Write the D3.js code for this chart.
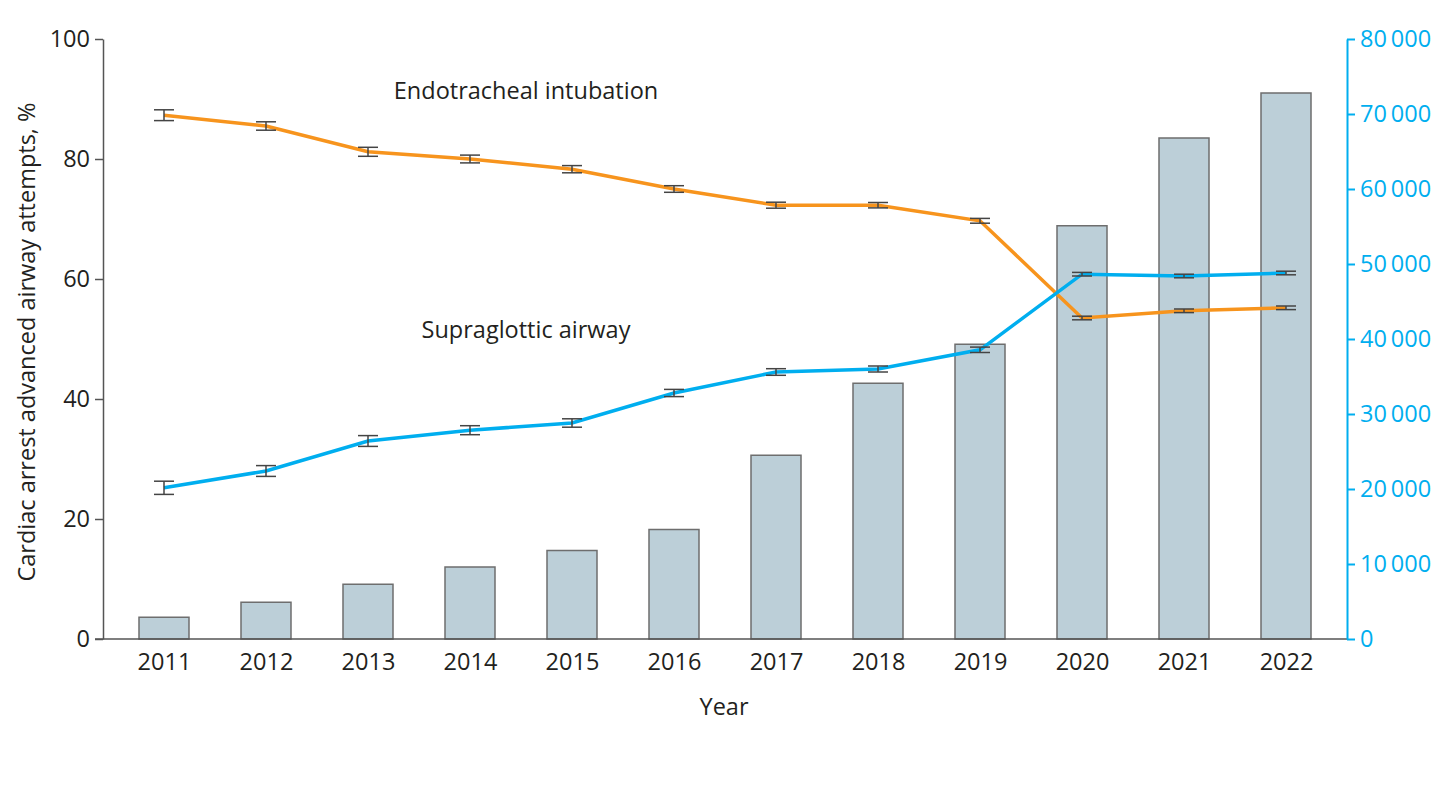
<!DOCTYPE html>
<html><head><meta charset="utf-8">
<script src="https://cdn.jsdelivr.net/npm/d3@7"></script>
<style>body{margin:0;background:#fff;} text{font-family:"Open Sans","Lato",sans-serif;}</style>
</head><body>
<svg id="c" width="1440" height="810"></svg>
<script>
const years = ["2011","2012","2013","2014","2015","2016","2017","2018","2019","2020","2021","2022"];
const attempts = [2900, 4900, 7300, 9600, 11800, 14600, 24500, 34100, 39300, 55100, 66800, 72800];
const etiPct = [87.3, 85.5, 81.2, 80.0, 78.3, 75.0, 72.3, 72.3, 69.7, 53.5, 54.7, 55.2];
const etiErr = [0.9, 0.7, 0.75, 0.65, 0.6, 0.55, 0.5, 0.45, 0.4, 0.3, 0.3, 0.3];
const sgaPct = [25.2, 28.0, 33.0, 34.8, 36.0, 41.0, 44.5, 45.0, 48.2, 60.8, 60.5, 61.0];
const sgaErr = [1.1, 0.9, 0.9, 0.75, 0.7, 0.6, 0.55, 0.5, 0.45, 0.3, 0.3, 0.3];
const leftTicks = [0, 20, 40, 60, 80, 100];
const rightTicks = [0, 10000, 20000, 30000, 40000, 50000, 60000, 70000, 80000];

const svg = d3.select("#c");
const L = 103, R = 1347, T = 39, B = 639;
const FS = 23.5;
const x = d3.scalePoint().domain(years).range([L, R]).padding(0.598);
const yL = d3.scaleLinear().domain([0, 100]).range([B, T]);
const yR = d3.scaleLinear().domain([0, 80000]).range([B, T]);
const BLUE = "#00aeef", ORANGE = "#f7941d", GRAY = "#555", INK = "#231f20";

// bars
svg.append("g").selectAll("rect").data(years).join("rect")
  .attr("x", d => x(d) - 25).attr("width", 50)
  .attr("y", (d,i) => yR(attempts[i])).attr("height", (d,i) => B - yR(attempts[i]))
  .attr("fill", "#bccfd8").attr("stroke", "#6e6e6e").attr("stroke-width", 1.5);

// bottom line
svg.append("line").attr("x1", L - 8).attr("x2", R).attr("y1", B).attr("y2", B)
  .attr("stroke", GRAY).attr("stroke-width", 1.5);

// left axis
const gl = svg.append("g").attr("transform", `translate(${L},0)`)
  .call(d3.axisLeft(yL).tickValues(leftTicks).tickSize(8).tickSizeOuter(0).tickPadding(5));
gl.select(".domain").attr("stroke", GRAY).attr("stroke-width", 1.5);
gl.selectAll(".tick line").attr("stroke", GRAY).attr("stroke-width", 1.5);
gl.selectAll(".tick text").attr("font-size", FS).attr("fill", INK).attr("font-family", "Open Sans");

// right axis
const fmt = v => v === 0 ? "0" : d3.format(",")(v).replace(/,/g, "\u2009");
const gr = svg.append("g").attr("transform", `translate(${R},0)`)
  .call(d3.axisRight(yR).tickValues(rightTicks).tickSize(8).tickSizeOuter(0).tickPadding(5).tickFormat(fmt));
gr.select(".domain").attr("stroke", BLUE).attr("stroke-width", 2);
gr.selectAll(".tick line").attr("stroke", BLUE).attr("stroke-width", 2);
gr.selectAll(".tick text").attr("font-size", FS).attr("fill", BLUE).attr("font-family", "Open Sans");

// x axis labels
const gx = svg.append("g").attr("transform", `translate(0,${B})`)
  .call(d3.axisBottom(x).tickSize(0).tickPadding(14));
gx.select(".domain").remove();
gx.selectAll(".tick text").attr("font-size", FS).attr("fill", INK).attr("font-family", "Open Sans");

// lines
const line = arr => d3.line().x((d,i) => x(years[i])).y(d => yL(d))(arr);
svg.append("path").attr("d", line(etiPct)).attr("fill", "none").attr("stroke", ORANGE).attr("stroke-width", 3.5);
svg.append("path").attr("d", line(sgaPct)).attr("fill", "none").attr("stroke", BLUE).attr("stroke-width", 3.5);

// error bars
function errBars(vals, errs) {
  const g = svg.append("g").attr("stroke", "#444").attr("stroke-width", 1.5);
  years.forEach((yr, i) => {
    const cx = x(yr), y1 = yL(vals[i] - errs[i]), y2 = yL(vals[i] + errs[i]);
    g.append("line").attr("x1", cx).attr("x2", cx).attr("y1", y1).attr("y2", y2);
    g.append("line").attr("x1", cx - 10).attr("x2", cx + 10).attr("y1", y1).attr("y2", y1);
    g.append("line").attr("x1", cx - 10).attr("x2", cx + 10).attr("y1", y2).attr("y2", y2);
  });
}
errBars(etiPct, etiErr);
errBars(sgaPct, sgaErr);

// annotations
svg.append("text").attr("x", 526).attr("y", 99).attr("text-anchor", "middle")
  .attr("font-size", FS).attr("fill", INK).text("Endotracheal intubation");
svg.append("text").attr("x", 526).attr("y", 338).attr("text-anchor", "middle")
  .attr("font-size", FS).attr("fill", INK).text("Supraglottic airway");

// axis titles
svg.append("text").attr("x", 724).attr("y", 715).attr("text-anchor", "middle")
  .attr("font-size", FS).attr("fill", INK).text("Year");
svg.append("text").attr("transform", "translate(35,342) rotate(-90)").attr("text-anchor", "middle")
  .attr("font-size", FS).attr("fill", INK).text("Cardiac arrest advanced airway attempts, %");
</script>
</body></html>
